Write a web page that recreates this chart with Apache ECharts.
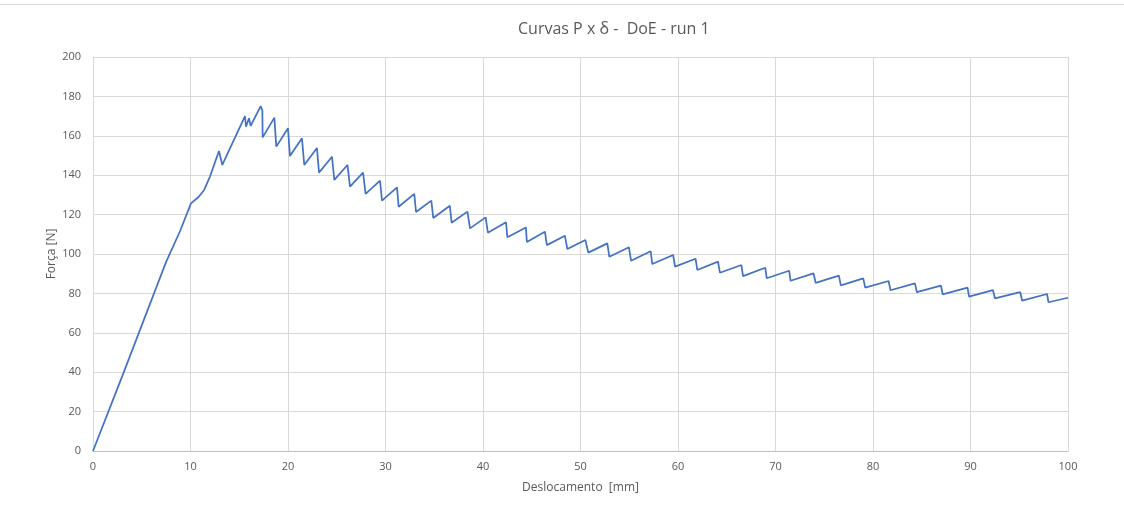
<!DOCTYPE html>
<html>
<head>
<meta charset="utf-8">
<script src="https://cdn.jsdelivr.net/npm/echarts@6/dist/echarts.min.js"></script>
<style>
html,body{margin:0;padding:0;background:#fff;}
#c{width:1124px;height:516px;}
</style>
</head>
<body>
<div id="c"></div>
<script>
const xs = [0, 3, 7.5, 8.9, 10.05, 10.8, 11.4, 12.0, 12.92, 13.26, 15.59, 15.69, 16.0, 16.17, 17.2, 17.37, 17.4, 18.6, 18.8, 20.0, 20.2, 21.43, 21.67, 22.97, 23.18, 24.51, 24.75, 26.1, 26.36, 27.7, 27.96, 29.44, 29.64, 31.18, 31.35, 32.95, 33.13, 34.7, 34.9, 36.6, 36.78, 38.4, 38.67, 40.27, 40.5, 42.36, 42.5, 44.4, 44.5, 46.35, 46.55, 48.4, 48.65, 50.5, 50.8, 52.75, 52.96, 54.97, 55.18, 57.2, 57.36, 59.5, 59.7, 61.8, 61.98, 64.1, 64.3, 66.5, 66.67, 68.95, 69.1, 71.4, 71.55, 73.9, 74.12, 76.5, 76.7, 79.0, 79.2, 81.6, 81.8, 84.3, 84.5, 86.97, 87.15, 89.7, 89.85, 92.3, 92.5, 95.1, 95.3, 97.85, 98.0, 100];
const ys = [0, 38, 96, 111.3, 125.7, 128.8, 132.5, 139.3, 152.3, 145.2, 170, 164.6, 168.9, 165, 175.1, 172.8, 159.2, 169.2, 154.5, 163.8, 149.7, 158.7, 145.2, 153.8, 141.3, 149.4, 137.6, 145.2, 134.2, 141.3, 130.5, 137.2, 127.1, 133.8, 124.0, 130.5, 121.3, 127.1, 118.3, 124.5, 115.9, 121.5, 113.0, 118.6, 110.8, 116.1, 108.5, 113.5, 106.1, 111.3, 104.5, 109.3, 102.5, 107.1, 100.7, 105.4, 98.6, 103.4, 96.6, 101.4, 94.9, 99.5, 93.6, 97.6, 91.9, 96.1, 90.5, 94.4, 88.8, 93.0, 87.7, 91.5, 86.4, 90.2, 85.3, 89.0, 84.1, 87.6, 82.9, 86.3, 81.6, 85.1, 80.6, 83.9, 79.5, 82.9, 78.4, 81.7, 77.5, 80.6, 76.3, 79.7, 75.5, 77.8];
const titleText = 'Curvas P x δ -  DoE - run 1';
const xName = 'Deslocamento  [mm]';
const yName = 'Força [N]';

const data = xs.map((x, i) => [x, ys[i]]);
const font = 'Open Sans, Noto Sans, sans-serif';
const txt = '#595959';
const chart = echarts.init(document.getElementById('c'), null, {renderer: 'canvas'});
chart.setOption({
  animation: false,
  backgroundColor: '#fff',
  title: {
    text: titleText,
    left: 513, top: 16,
    textStyle: {fontFamily: font, fontSize: 16, fontWeight: 'normal', color: txt}
  },
  graphic: [{
    type: 'line', shape: {x1: 0, y1: 4.5, x2: 1124, y2: 4.5},
    style: {stroke: '#d9d9d9', lineWidth: 1}
  }],
  grid: {left: 93, right: 56, top: 57, bottom: 65, containLabel: false},
  xAxis: {
    type: 'value', min: 0, max: 100, interval: 10,
    name: xName, nameLocation: 'middle', nameGap: 31,
    nameTextStyle: {fontFamily: font, fontSize: 12, color: txt},
    axisLine: {show: true, lineStyle: {color: '#bfbfbf'}},
    axisTick: {show: false},
    axisLabel: {fontFamily: font, fontSize: 11, color: txt, margin: 10},
    splitLine: {show: true, lineStyle: {color: '#d9d9d9'}}
  },
  yAxis: {
    type: 'value', min: 0, max: 200, interval: 20,
    name: yName, nameLocation: 'middle', nameGap: 35, nameMoveOverlap: false,
    nameTextStyle: {fontFamily: font, fontSize: 12, color: txt},
    axisLine: {show: true, lineStyle: {color: '#d9d9d9'}},
    axisTick: {show: false},
    axisLabel: {fontFamily: font, fontSize: 11, color: txt, margin: 12},
    splitLine: {show: true, lineStyle: {color: '#d9d9d9'}}
  },
  series: [{
    type: 'line', data: data, showSymbol: false, symbol: 'none',
    lineStyle: {color: '#4472C4', width: 1.75},
    smooth: false
  }]
});
</script>
</body>
</html>
